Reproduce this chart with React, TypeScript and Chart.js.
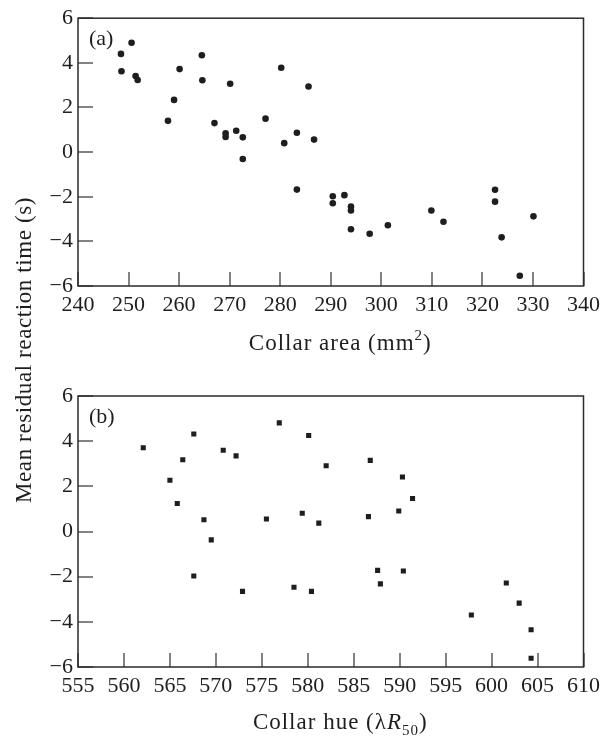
import React, { useEffect, useRef } from "react";
import { Chart, registerables } from "chart.js";

Chart.register(...registerables);

// ---- data ----
const areaX = [248.5, 248.6, 250.6, 251.4, 251.8, 257.8, 259.0, 260.1, 264.5, 264.6, 267.0, 269.2, 269.2, 270.1, 271.3, 272.6, 272.6, 277.1, 280.2, 280.8, 283.3, 283.3, 285.6, 286.7, 290.4, 290.4, 292.7, 294.0, 294.0, 294.0, 297.7, 301.3, 309.9, 312.3, 322.5, 322.5, 323.8, 327.4, 330.1];
const areaY = [4.40, 3.62, 4.90, 3.41, 3.23, 1.40, 2.34, 3.72, 4.34, 3.22, 1.30, 0.84, 0.68, 3.06, 0.96, 0.66, -0.31, 1.50, 3.78, 0.40, 0.87, -1.68, 2.94, 0.56, -1.98, -2.29, -1.93, -2.44, -2.62, -3.46, -3.66, -3.28, -2.62, -3.12, -1.69, -2.22, -3.82, -5.54, -2.88];

const hueX = [562.1, 565.0, 565.8, 566.4, 567.6, 567.6, 568.7, 569.5, 570.8, 572.2, 572.9, 575.5, 576.9, 578.5, 579.4, 580.1, 580.4, 581.2, 582.0, 586.8, 590.3, 591.4, 589.9, 586.6, 587.6, 590.4, 587.9, 601.6, 603.0, 597.8, 604.3, 604.3];
const hueY = [3.71, 2.27, 1.24, 3.18, 4.32, -1.97, 0.52, -0.37, 3.60, 3.35, -2.65, 0.55, 4.81, -2.47, 0.81, 4.25, -2.65, 0.37, 2.91, 3.15, 2.41, 1.46, 0.91, 0.66, -1.72, -1.75, -2.32, -2.28, -3.17, -3.70, -4.35, -5.61];

const areaTicks = [240, 250, 260, 270, 280, 290, 300, 310, 320, 330, 340];
const hueTicks = [555, 560, 565, 570, 575, 580, 585, 590, 595, 600, 605, 610];
const residualTicks = [-6, -4, -2, 0, 2, 4, 6];

const panelLabels = ["(a)", "(b)"];
const yTitle = "Mean residual reaction time (s)";
type Seg = { text: string; sup?: boolean; sub?: boolean; italic?: boolean };
const areaTitle: Seg[] = [{ text: "Collar area (mm" }, { text: "2", sup: true }, { text: ")" }];
const hueTitle: Seg[] = [{ text: "Collar hue (λ" }, { text: "R", italic: true }, { text: "50", sub: true }, { text: ")" }];

const SERIF = "'Liberation Serif', 'Times New Roman', serif";
const INK = "#1e1e1e";

function fmt(v: number | string) {
  return String(v).replace("-", "\u2212");
}

function framePlugin(label: string, title: Seg[], xTicks: number[], titleDy: number, withYTitle: boolean) {
  return {
    id: "frame" + (withYTitle ? "A" : "B"),
    afterDraw(chart: any) {
      const ctx: CanvasRenderingContext2D = chart.ctx;
      const a = chart.chartArea;
      const sx = chart.scales.x;
      const sy = chart.scales.y;
      ctx.save();
      // inward ticks (thin filled bars)
      ctx.fillStyle = "#333333";
      for (const v of xTicks) {
        const px = Math.round(Number(sx.getPixelForValue(v)));
        ctx.fillRect(px - 0.6, a.bottom - 14, 1.2, 14);
      }
      for (const v of residualTicks) {
        const py = Math.round(Number(sy.getPixelForValue(v)));
        ctx.fillRect(a.left, py - 0.6, 15, 1.2);
      }
      // frame
      ctx.strokeStyle = "#2a2a2a";
      ctx.lineWidth = 1.5;
      ctx.strokeRect(a.left, a.top, a.right - a.left, a.bottom - a.top);
      // panel label
      ctx.fillStyle = INK;
      ctx.font = `22px ${SERIF}`;
      ctx.textAlign = "left";
      ctx.textBaseline = "alphabetic";
      ctx.fillText(label, a.left + 11, a.top + 27);
      // x title with super/subscripts
      const base = 23;
      const small = 15;
      const fontOf = (s: Seg) =>
        `${s.italic ? "italic " : ""}${s.sup || s.sub ? small : base}px ${SERIF}`;
      (ctx as any).letterSpacing = "1px";
      let total = 0;
      const widths = title.map((s) => {
        ctx.font = fontOf(s);
        const w = ctx.measureText(s.text).width;
        total += w;
        return w;
      });
      let x = (a.left + a.right) / 2 + 9.5 - total / 2;
      const yb = a.bottom + titleDy;
      title.forEach((s, i) => {
        ctx.font = fontOf(s);
        const dy = s.sup ? -10 : s.sub ? 6 : 0;
        ctx.fillText(s.text, x, yb + dy);
        x += widths[i];
      });
      // shared y title
      if (withYTitle) {
        (ctx as any).letterSpacing = "0.6px";
        ctx.font = `23px ${SERIF}`;
        ctx.translate(31, 350);
        ctx.rotate(-Math.PI / 2);
        ctx.textAlign = "center";
        ctx.fillText(yTitle, 0, 0);
      }
      ctx.restore();
    },
  };
}

function makeConfig(
  xs: number[],
  ys: number[],
  xTicks: number[],
  pointStyle: string,
  radius: number,
  padding: any,
  plugin: any
): any {
  const tickFont = { family: SERIF, size: 22 };
  return {
    type: "scatter",
    data: {
      datasets: [
        {
          data: xs.map((x, i) => ({ x, y: ys[i] })),
          pointStyle,
          pointRadius: radius,
          pointHoverRadius: radius,
          pointBorderWidth: 0,
          backgroundColor: INK,
          borderColor: INK,
        },
      ],
    },
    options: {
      responsive: false,
      animation: false,
      events: [],
      layout: { padding },
      plugins: { legend: { display: false }, tooltip: { enabled: false }, title: { display: false } },
      scales: {
        x: {
          type: "linear",
          min: xTicks[0],
          max: xTicks[xTicks.length - 1],
          afterBuildTicks: (s: any) => {
            s.ticks = xTicks.map((v) => ({ value: v }));
          },
          afterFit: (s: any) => {
            s.height = 40;
          },
          grid: { display: false, drawTicks: false },
          border: { display: false },
          ticks: {
            autoSkip: false,
            maxRotation: 0,
            minRotation: 0,
            padding: 6,
            color: INK,
            font: tickFont,
            callback: (v: any) => fmt(v),
          },
        },
        y: {
          type: "linear",
          min: residualTicks[0],
          max: residualTicks[residualTicks.length - 1],
          afterBuildTicks: (s: any) => {
            s.ticks = residualTicks.map((v) => ({ value: v }));
          },
          afterFit: (s: any) => {
            s.width = 78;
          },
          grid: { display: false, drawTicks: false },
          border: { display: false },
          ticks: {
            autoSkip: false,
            padding: 5,
            color: INK,
            font: tickFont,
            callback: (v: any) => fmt(v),
          },
        },
      },
    },
    plugins: [plugin],
  };
}

export default function App() {
  const topRef = useRef<HTMLCanvasElement>(null);
  const botRef = useRef<HTMLCanvasElement>(null);

  useEffect(() => {
    const top = new Chart(
      topRef.current!,
      makeConfig(
        areaX,
        areaY,
        areaTicks,
        "circle",
        3.3,
        { left: 0, top: 14, right: 21, bottom: 738 - 286 - 40 },
        framePlugin(panelLabels[0], areaTitle, areaTicks, 64, true)
      )
    );
    const bot = new Chart(
      botRef.current!,
      makeConfig(
        hueX,
        hueY,
        hueTicks,
        "rect",
        3.6,
        { left: 0, top: 396, right: 21, bottom: 738 - 667 - 40 },
        framePlugin(panelLabels[1], hueTitle, hueTicks, 62, false)
      )
    );
    return () => {
      top.destroy();
      bot.destroy();
    };
  }, []);

  const cs: React.CSSProperties = { position: "absolute", left: 0, top: 0, width: 606, height: 738 };
  return (
    <div style={{ position: "fixed", left: 0, top: 0, width: 606, height: 738, background: "#fff" }}>
      <canvas ref={topRef} width={606} height={738} style={cs} />
      <canvas ref={botRef} width={606} height={738} style={cs} />
    </div>
  );
}
